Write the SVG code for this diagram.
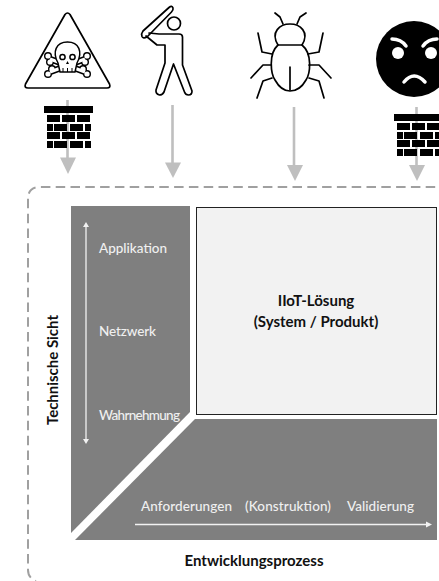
<svg xmlns="http://www.w3.org/2000/svg" width="439" height="581" viewBox="0 0 439 581">
<style>
text{font-family:"Lato","Liberation Sans",sans-serif}
.w{fill:#f0f0f0;font-size:13.500px;font-weight:500}
.b{fill:#111111;font-size:15px;font-weight:700}
.t{fill:#111111;font-size:15px;font-weight:700;text-anchor:middle}
.o{fill:none;stroke:#000;stroke-width:1.700;stroke-linecap:round;stroke-linejoin:round}
.threat{stroke:#bfbfbf;stroke-width:2.600;fill:none}
.head{fill:#bfbfbf}
.wa{stroke:#f2f2f2;stroke-width:1.300;fill:none}
.waf{fill:#f2f2f2}
</style>
<defs>
<g id="wall" fill="#000">
<rect x="44" y="106" width="49" height="7"/>
<rect x="47" y="115" width="13" height="7"/><rect x="62" y="115" width="13" height="7"/><rect x="77" y="115" width="13" height="7"/>
<rect x="47" y="124" width="6" height="7"/><rect x="54" y="124" width="13" height="7"/><rect x="70" y="124" width="13" height="7"/><rect x="85" y="124" width="6" height="7"/>
<rect x="47" y="132" width="13" height="7"/><rect x="62" y="132" width="13" height="7"/><rect x="77" y="132" width="13" height="7"/>
<rect x="47" y="141" width="6" height="7"/><rect x="54" y="141" width="13" height="7"/><rect x="70" y="141" width="13" height="7"/><rect x="85" y="141" width="6" height="7"/>
</g>
</defs>
<rect width="439" height="581" fill="#ffffff"/>
<g id="connectors">
<path class="threat" d="M67.500 100V160"/><path class="head" d="M60 157.500H76L68 174Z"/>
<path class="threat" d="M172.500 105V165"/><path class="head" d="M165 162.500H181L173 178Z"/>
<path class="threat" d="M294 107V168"/><path class="head" d="M287 165H303L295 181Z"/>
<path class="threat" d="M416.500 107V168"/><path class="head" d="M409 165H425L417 181Z"/>
</g>
<g id="boundary"><path d="M450 187H40Q28 187 28 199V570Q28 578 36 581" fill="none" stroke="#a0a0a0" stroke-width="2" stroke-dasharray="9.500 5.300"/></g>
<g id="layers">
<path d="M71 206H190V412L71 533Z" fill="#7f7f7f"/>
<path d="M195 419H437V540H75Z" fill="#7f7f7f"/>
<path class="wa" d="M86 226V441"/><path class="waf" d="M86 222L89 227H83ZM86 444L89 439H83Z"/>
<path class="wa" d="M135 524.500H428"/><path class="waf" d="M432 524.500L426 521.500V527.500Z"/>
<text class="w" x="99" y="253" textLength="68">Applikation</text>
<text class="w" x="99" y="336" textLength="57">Netzwerk</text>
<text class="w" x="99" y="420" textLength="81">Wahrnehmung</text>
<text class="w" x="141" y="511" textLength="91">Anforderungen</text>
<text class="w" x="245" y="511" textLength="86">(Konstruktion)</text>
<text class="w" x="347" y="511" textLength="67">Validierung</text>
</g>
<g id="solution">
<rect x="196.500" y="207.500" width="240" height="207" fill="#f2f2f2" stroke="#222222" stroke-width="1"/>
<text class="t" x="316" y="306">IIoT-Lösung</text>
<text class="t" x="316" y="327">(System / Produkt)</text>
</g>
<g id="axis-labels">
<text class="b" transform="translate(58 425) rotate(-90)" textLength="110">Technische Sicht</text>
<text class="t" x="254" y="566">Entwicklungsprozess</text>
</g>
<g id="hazard">
<path class="o" d="M65 14.500Q67.500 11.500 70 14.500L109.500 84Q111 88 107 88H28Q24 88 25.500 84Z"/>
<g fill="#000"><circle cx="48" cy="56" r="4"/><circle cx="50" cy="62" r="4"/><circle cx="87" cy="56" r="4"/><circle cx="85" cy="62" r="4"/><circle cx="48" cy="74" r="4"/><circle cx="52" cy="69" r="4"/><circle cx="87" cy="74" r="4"/><circle cx="83" cy="69" r="4"/></g>
<path d="M50 59L85 72M85 59L50 72" stroke="#000" stroke-width="6.500"/>
<g fill="#fff"><circle cx="48" cy="56" r="2.600"/><circle cx="50" cy="62" r="2.600"/><circle cx="87" cy="56" r="2.600"/><circle cx="85" cy="62" r="2.600"/><circle cx="48" cy="74" r="2.600"/><circle cx="52" cy="69" r="2.600"/><circle cx="87" cy="74" r="2.600"/><circle cx="83" cy="69" r="2.600"/></g>
<path d="M50 59L85 72M85 59L50 72" stroke="#fff" stroke-width="3.400"/>
<g fill="#fff" stroke="#000" stroke-width="1.500">
<path d="M58 63C52 52 56 42 67.500 42S83 52 77 63L75 72H60Z"/>
<circle cx="62.500" cy="57" r="2.600"/><circle cx="72.500" cy="57" r="2.600"/>
</g>
<path d="M67.500 61l-1.500 3h3Z"/>
<path d="M63 68v4M67.500 68v4M72 68v4" stroke="#000" stroke-width="1"/>
</g>
<use id="firewall-1" href="#wall"/>
<g id="attacker" class="o">
<circle cx="174" cy="23.500" r="6.500"/>
<path d="M143 31L169 7.500Q172 5 173 8Q173.500 10 171.500 12L147 37Q143 39 142 36.500Q141 33.500 143 31Z"/>
<path d="M149 33L159 34H179Q182.500 34 182.500 37V65L192 91Q192 95 188.500 95Q185.500 95 184.500 92L173.500 64L164 92Q162.500 95 159.500 95Q155.500 94 156 90L165 63V45H157L146 36"/>
</g>
<g id="bug" class="o">
<path d="M278 45C270 32 280 24 290 24S310 32 302 45Z"/>
<path d="M278 45C268 54 271 74 275 80C280 89 285 91 290 91S301 89 306 80C310 74 313 54 302 45"/>
<path d="M290 67V90"/>
<path d="M283 24L280 17L275 13M297 24L300 17L306 13"/>
<path d="M272 54L262 52L258 33M308 54L319 52L323 33"/>
<path d="M271 65H263L251 78M309 65H319L331 78"/>
<path d="M272 78L263 81L257 98M309 78L319 81L324 98"/>
</g>
<g id="angry-face">
<circle cx="414" cy="59" r="38" fill="#000"/>
<circle cx="398" cy="53" r="6" fill="#fff"/><circle cx="431" cy="53" r="6" fill="#fff"/>
<path d="M392 39Q401 39 406 46M437 39Q428 39 423 46" fill="none" stroke="#fff" stroke-width="3.500" stroke-linecap="round"/>
<path d="M404 82Q414 70 425 82" fill="none" stroke="#fff" stroke-width="3.500" stroke-linecap="round"/>
</g>
<use id="firewall-2" href="#wall" x="350" y="8"/>
</svg>
